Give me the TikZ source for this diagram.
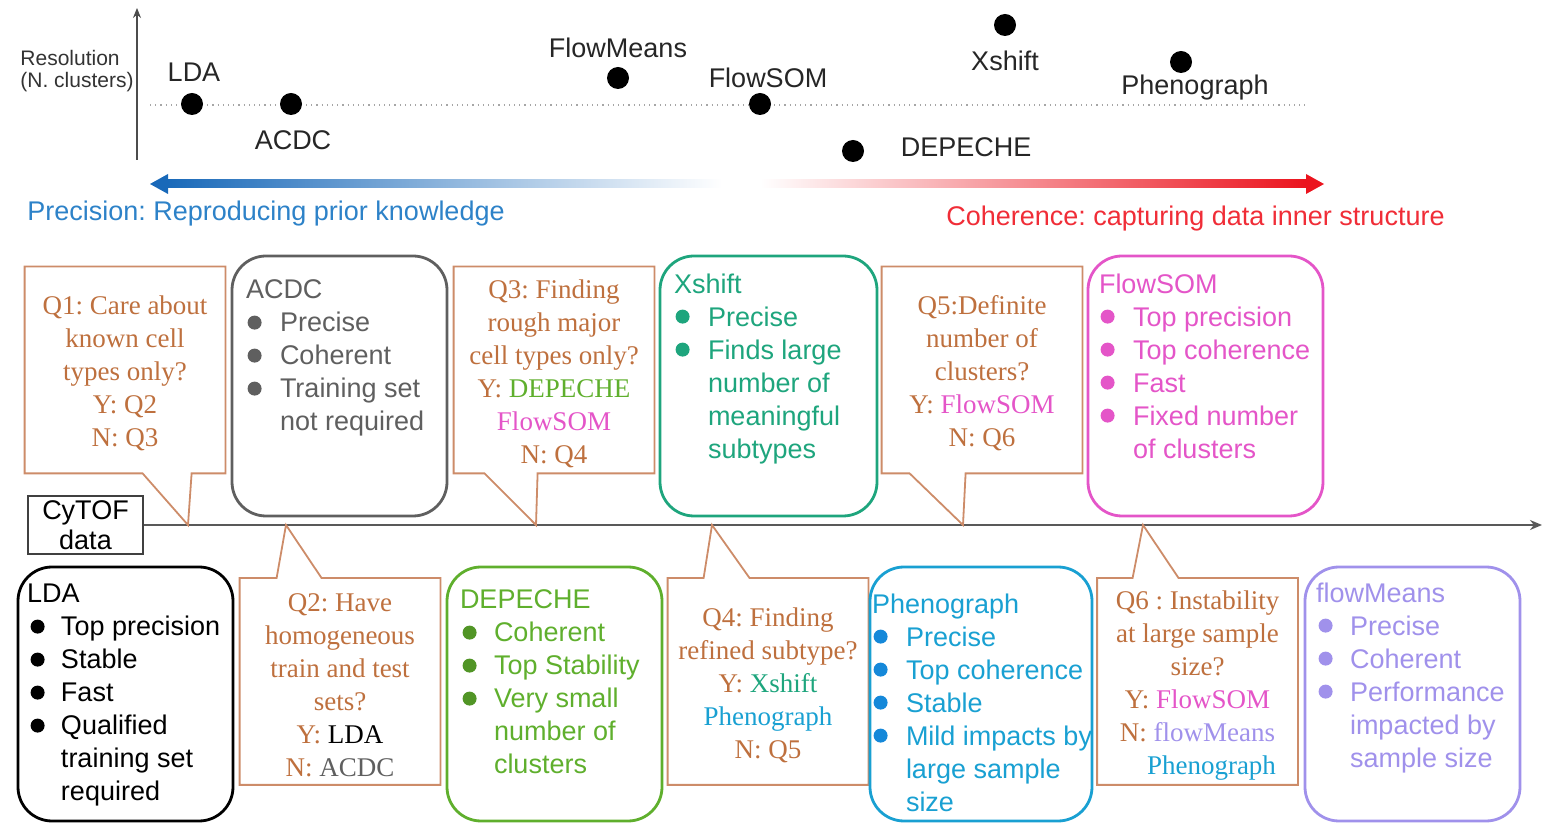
\documentclass[tikz,border=0pt]{standalone}
\usepackage{fontspec}
\setmainfont{Liberation Sans}
\newfontfamily\qfont{Liberation Serif}
\usepackage{tikz}
\usetikzlibrary{positioning,arrows.meta,calc}
\usepackage{xcolor}
\frenchspacing

\definecolor{acdcgray}{RGB}{95,95,95}
\definecolor{xshiftteal}{RGB}{30,165,125}
\definecolor{flowsompink}{RGB}{228,85,200}
\definecolor{depechegreen}{RGB}{95,175,45}
\definecolor{phenoblue}{RGB}{25,160,210}
\definecolor{flowmeanslav}{RGB}{160,145,235}
\definecolor{qbrown}{RGB}{190,112,62}
\definecolor{qedge}{RGB}{205,140,105}
\definecolor{precblue}{RGB}{25,105,185}
\definecolor{prectext}{RGB}{45,130,200}
\definecolor{cohred}{RGB}{235,20,30}
\definecolor{cohtext}{RGB}{240,45,55}

\newcommand{\boxfont}{\fontsize{13.5pt}{16.5pt}\selectfont}
\newcommand{\bulgap}{\hspace*{17pt}}
\newcommand{\qtop}{\rule{0pt}{13pt}}

\begin{document}
\begin{tikzpicture}[x=0.5pt, y=-0.5pt,
    algbox/.style={draw=#1, line width=1.4pt, rounded corners=17pt,
        minimum width=107.5pt, minimum height=130pt, inner sep=0pt},
    algtext/.style={anchor=north west, inner sep=0pt, align=left,
        text=#1, font=\boxfont},
    question/.style={draw=none, minimum width=100pt, minimum height=103pt,
        inner sep=0pt, align=center, text=qbrown, font=\boxfont\qfont},
    callout/.style={draw=qedge, line width=0.9pt},
    dot/.style={circle, fill=black, minimum size=11pt, inner sep=0pt},
    dotlabel/.style={inner sep=0pt, font=\boxfont, text=black!85},
    axis/.style={draw=black!70, line width=0.6pt, -{Stealth[length=5pt, width=4pt]}},
    timeline/.style={draw=black!65, line width=0.8pt, -{Stealth[length=6pt, width=5pt]}}
]
\useasboundingbox (0,0) rectangle (1544,823);

% Resolution axis
\coordinate (ybase) at (137,160);
\coordinate (ytop) at (137,8);
\draw[axis] (ybase) -- (ytop);
\node[anchor=east, align=left, inner sep=0pt, text=black!80,
    font=\fontsize{10.5pt}{11pt}\selectfont] (reslabel) at (134,71) {Resolution\\(N. clusters)};
\coordinate (refL) at (150,105);
\coordinate (refR) at (1305,105);
\draw[black!35, dotted, line width=0.6pt] (refL) -- (refR);

% Methods
\node[dot] (dLDA) at (192,104) {};
\node[dot] (dACDC) at (291,104) {};
\node[dot] (dFlowMeans) at (618,78) {};
\node[dot] (dFlowSOM) at (760,104) {};
\node[dot] (dDEPECHE) at (853,151) {};
\node[dot] (dXshift) at (1005,25) {};
\node[dot] (dPheno) at (1181,62) {};

\node[dotlabel, above=5.5pt of dLDA, xshift=1pt] (lLDA) {LDA};
\node[dotlabel, below=7.5pt of dACDC, xshift=1pt] (lACDC) {ACDC};
\node[dotlabel, above=4pt of dFlowMeans] (lFlowMeans) {FlowMeans};
\node[dotlabel, above=2pt of dFlowSOM, xshift=4pt] (lFlowSOM) {FlowSOM};
\node[dotlabel, right=18pt of dDEPECHE, yshift=2pt] (lDEPECHE) {DEPECHE};
\node[dotlabel, below=7pt of dXshift] (lXshift) {Xshift};
\node[dotlabel, below=0.5pt of dPheno, xshift=7pt] (lPheno) {Phenograph};

% Precision / coherence arrows
\shade[left color=precblue, middle color=precblue!55, right color=white] (166,180) rectangle (722,188);
\fill[precblue] (150,184) -- (168,174) -- (168,194) -- cycle;
\shade[left color=white, middle color=cohred!50, right color=cohred] (760,180) rectangle (1306,188);
\fill[cohred] (1324,184) -- (1306,174) -- (1306,194) -- cycle;
\node[anchor=west, inner sep=0pt, text=prectext, font=\boxfont] (prec) at (27,214) {Precision: Reproducing prior knowledge};
\node[anchor=east, inner sep=0pt, text=cohtext, font=\boxfont] (coh) at (1445,219) {Coherence: capturing data inner structure};

% Timeline
\node[draw=black!75, line width=0.7pt, minimum width=57.5pt, minimum height=29pt, inner sep=0pt,
    align=center, font=\fontsize{13.5pt}{15pt}\selectfont] (cytof) at (85.5,525) {CyTOF\\data};
\coordinate (tlend) at (1542,525);
\draw[timeline] (cytof.east) -- (tlend);

\coordinate (tip1) at (188,525);
\coordinate (tip2) at (286,525);
\coordinate (tip3) at (536,525);
\coordinate (tip4) at (712,525);
\coordinate (tip5) at (963,525);
\coordinate (tip6) at (1143,525);

% Questions
\node[question] (q1) at (125,370) {\qtop Q1: Care about\\known cell\\types only?\\Y: Q2\\N: Q3};
\draw[callout] (q1.south west) -- ($(q1.south west)+(118,0)$) -- (tip1)
    -- ($(q1.south west)+(167,0)$) -- (q1.south east) |- (q1.north west) -- cycle;

\node[question] (q3) at (554,370) {\qtop Q3: Finding\\rough major\\cell types only?\\Y: \textcolor{depechegreen}{DEPECHE}\\\textcolor{flowsompink}{FlowSOM}\\N: Q4};
\draw[callout] (q3.south west) -- ($(q3.south west)+(31,0)$) -- (tip3)
    -- ($(q3.south west)+(84,0)$) -- (q3.south east) |- (q3.north west) -- cycle;

\node[question] (q5) at (982,370) {\qtop Q5:Definite\\number of\\clusters?\\Y: \textcolor{flowsompink}{FlowSOM}\\N: Q6};
\draw[callout] (q5.south west) -- ($(q5.south west)+(28,0)$) -- (tip5)
    -- ($(q5.south west)+(84,0)$) -- (q5.south east) |- (q5.north west) -- cycle;

\node[question] (q2) at (340,681.5) {\qtop Q2: Have\\homogeneous\\train and test\\sets?\\Y: \textcolor{black}{LDA}\\N: \textcolor{acdcgray}{ACDC}};
\draw[callout] (q2.north west) -- ($(q2.north west)+(37,0)$) -- (tip2)
    -- ($(q2.north west)+(82,0)$) -- (q2.north east) |- (q2.south west) -- cycle;

\node[question] (q4) at (768,681.5) {\qtop Q4: Finding\\refined subtype?\\Y: \textcolor{xshiftteal}{Xshift}\\\textcolor{phenoblue}{Phenograph}\\N: Q5};
\draw[callout] (q4.north west) -- ($(q4.north west)+(36,0)$) -- (tip4)
    -- ($(q4.north west)+(82,0)$) -- (q4.north east) |- (q4.south west) -- cycle;

\node[question] (q6) at (1197.5,681.5) {\qtop Q6 : Instability\\at large sample\\size?\\Y: \textcolor{flowsompink}{FlowSOM}\\N: \textcolor{flowmeanslav}{flowMeans}\\\hspace*{14pt}\textcolor{phenoblue}{Phenograph}};
\draw[callout] (q6.north west) -- ($(q6.north west)+(35.5,0)$) -- (tip6)
    -- ($(q6.north west)+(81.5,0)$) -- (q6.north east) |- (q6.south west) -- cycle;

% Upper method boxes
\node[algbox=acdcgray] (acdc) at (339.5,386) {};
\node[algtext=acdcgray] (acdctxt) at ($(acdc.north west)+(15,25)$)
    {ACDC\\\bulgap Precise\\\bulgap Coherent\\\bulgap Training set\\\bulgap not required};
\foreach \i in {1,2,3}
    \fill[acdcgray] ($(acdctxt.north west)+(9,10+33*\i)$) circle (3.5pt);

\node[algbox=xshiftteal, minimum width=108.5pt] (xshift) at (768.5,386) {};
\node[algtext=xshiftteal] (xshifttxt) at ($(xshift.north west)+(15,19)$)
    {Xshift\\\bulgap Precise\\\bulgap Finds large\\\bulgap number of\\\bulgap meaningful\\\bulgap subtypes};
\foreach \i in {1,2}
    \fill[xshiftteal] ($(xshifttxt.north west)+(9,10+33*\i)$) circle (3.5pt);

\node[algbox=flowsompink, minimum width=117.5pt] (flowsom) at (1205.5,386) {};
\node[algtext=flowsompink] (flowsomtxt) at ($(flowsom.north west)+(12,19)$)
    {FlowSOM\\\bulgap Top precision\\\bulgap Top coherence\\\bulgap Fast\\\bulgap Fixed number\\\bulgap of clusters};
\foreach \i in {1,...,4}
    \fill[flowsompink] ($(flowsomtxt.north west)+(9,10+33*\i)$) circle (3.5pt);

% Lower method boxes
\node[algbox=black, minimum height=127pt] (lda) at (125.5,694) {};
\node[algtext=black] (ldatxt) at ($(lda.north west)+(10,18)$)
    {LDA\\\bulgap Top precision\\\bulgap Stable\\\bulgap Fast\\\bulgap Qualified\\\bulgap training set\\\bulgap required};
\foreach \i in {1,...,4}
    \fill[black] ($(ldatxt.north west)+(11,10+33*\i)$) circle (3.5pt);

\node[algbox=depechegreen, minimum height=127pt] (depeche) at (554.5,694) {};
\node[algtext=depechegreen] (depechetxt) at ($(depeche.north west)+(14,24)$)
    {DEPECHE\\\bulgap Coherent\\\bulgap Top Stability\\\bulgap Very small\\\bulgap number of\\\bulgap clusters};
\foreach \i in {1,2,3}
    \fill[depechegreen!85!black] ($(depechetxt.north west)+(10,10+33*\i)$) circle (3.5pt);

\node[algbox=phenoblue, minimum width=111pt, minimum height=127pt] (pheno) at (981,694) {};
\node[algtext=phenoblue] (phenotxt) at ($(pheno.north west)+(3,28)$)
    {Phenograph\\\bulgap Precise\\\bulgap Top coherence\\\bulgap Stable\\\bulgap Mild impacts by\\\bulgap large sample\\\bulgap size};
\foreach \i in {1,...,4}
    \fill[phenoblue!85!blue] ($(phenotxt.north west)+(9,10+33*\i)$) circle (3.5pt);

\node[algbox=flowmeanslav, minimum height=127pt] (flowmeans) at (1412.5,694) {};
\node[algtext=flowmeanslav] (flowmeanstxt) at ($(flowmeans.north west)+(12,17)$)
    {flowMeans\\\bulgap Precise\\\bulgap Coherent\\\bulgap Performance\\\bulgap impacted by\\\bulgap sample size};
\foreach \i in {1,2,3}
    \fill[flowmeanslav] ($(flowmeanstxt.north west)+(10,10+33*\i)$) circle (3.5pt);

\end{tikzpicture}
\end{document}
